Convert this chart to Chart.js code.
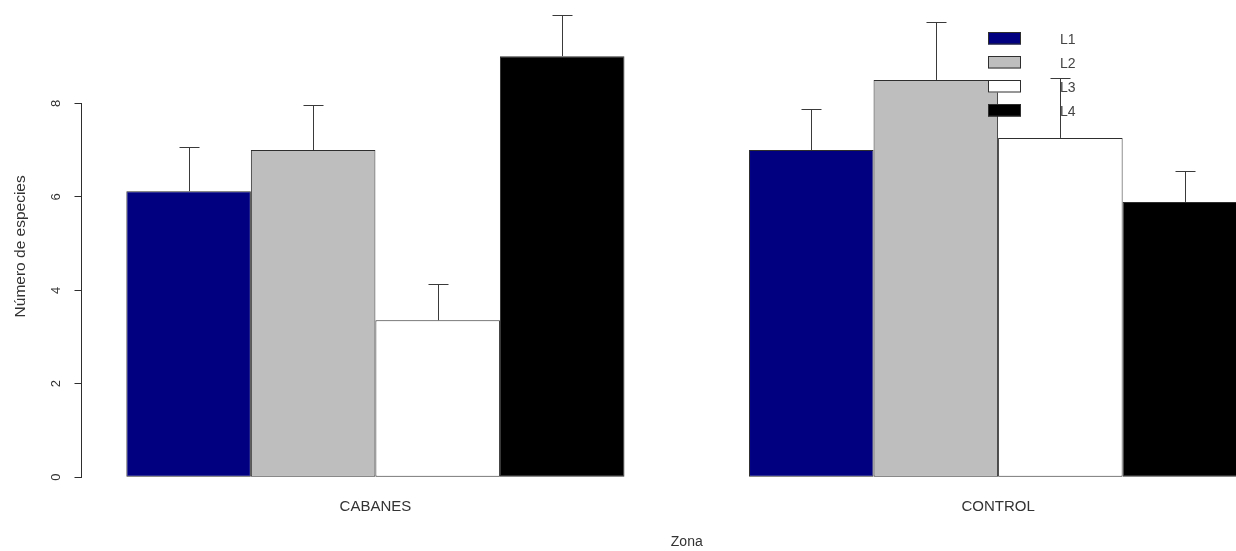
<!DOCTYPE html>
<html>
<head>
<meta charset="utf-8">
<script src="https://cdn.jsdelivr.net/npm/chart.js@4"></script>
<style>
  html, body { margin: 0; padding: 0; background: #fff; overflow: hidden; width: 1236px; height: 551px; }
  #wrap { position: absolute; left: 0; top: -14px; width: 1292px; height: 565px; }
</style>
</head>
<body>
<div id="wrap"><canvas id="chart"></canvas></div>
<script>
// Mean number of species per zone and line, with standard errors
const categories = ['CABANES', 'CONTROL'];
const seriesNames = ['L1', 'L2', 'L3', 'L4'];

const l1Mean = [6.12, 7.00];
const l2Mean = [7.00, 8.50];
const l3Mean = [3.36, 7.26];
const l4Mean = [9.01, 5.89];

const l1Se = [0.95, 0.88];
const l2Se = [0.97, 1.23];
const l3Se = [0.77, 1.29];
const l4Se = [0.87, 0.66];

const yTicks = [0, 2, 4, 6, 8];

const fills = ['#000080', '#bebebe', '#ffffff', '#000000'];
const ink = '#2e2e2e';
const textColor = '#333333';
const fontFamily = '"Liberation Sans", Arial, Helvetica, sans-serif';

const means = [l1Mean, l2Mean, l3Mean, l4Mean];
const errs = [l1Se, l2Se, l3Se, l4Se];

// value axis: from 0 to the highest whisker, padded 4% each way
const upper = means.flatMap((m, s) => m.map((v, i) => v + errs[s][i]));
const yTop = Math.max(...upper);
const yMin = -0.04 * yTop;
const yMax = 1.04 * yTop;

// groups sit at 0 and 1; bars fill 4/5 of each unit slot
const barSpan = 1.8;
const xMin = -0.4 - 0.04 * barSpan;
const xMax = 1.4 + 0.04 * barSpan;

const Y_OFFSET = 14; // canvas is shifted up by this many pixels

const decorations = {
  id: 'decorations',
  afterDatasetsDraw(chart) {
    const { ctx, scales: { y } } = chart;
    ctx.save();

    // legend (no frame)
    const lx = 988, ly = 32 + Y_OFFSET, step = 24, bw = 33, bh = 12.5;
    ctx.font = '14px ' + fontFamily;
    ctx.textBaseline = 'middle';
    ctx.textAlign = 'left';
    chart.data.datasets.forEach((ds, s) => {
      const top = ly + s * step;
      ctx.fillStyle = fills[s];
      ctx.fillRect(lx, top, bw, bh);
      ctx.strokeStyle = ink;
      ctx.lineWidth = 1;
      ctx.strokeRect(lx + 0.5, top + 0.5, bw - 1, bh - 1);
      ctx.fillStyle = '#444444';
      ctx.fillText(ds.label, 1060, top + bh / 2 + 2);
    });

    // standard error whiskers
    ctx.strokeStyle = '#3a3a3a';
    ctx.lineWidth = 1;
    ctx.beginPath();
    chart.data.datasets.forEach((ds, s) => {
      const meta = chart.getDatasetMeta(s);
      meta.data.forEach((bar, i) => {
        const x = Math.round(bar.x) + 0.5;
        const y0 = y.getPixelForValue(means[s][i]);
        const y1 = Math.round(y.getPixelForValue(means[s][i] + errs[s][i])) + 0.5;
        ctx.moveTo(x, y0);
        ctx.lineTo(x, y1);
        ctx.moveTo(x - 10, y1);
        ctx.lineTo(x + 10, y1);
      });
    });
    ctx.stroke();

    // y axis line spanning the first to last tick
    ctx.strokeStyle = ink;
    const ax = Math.floor(chart.chartArea.left) + 0.5;
    ctx.beginPath();
    ctx.moveTo(ax, y.getPixelForValue(yTicks[0]));
    ctx.lineTo(ax, y.getPixelForValue(yTicks[yTicks.length - 1]));
    ctx.stroke();

    ctx.restore();
  }
};

new Chart(document.getElementById('chart'), {
  type: 'bar',
  data: {
    datasets: seriesNames.map((name, s) => ({
      label: name,
      data: means[s].map((v, i) => ({ x: i, y: v })),
      backgroundColor: fills[s],
      borderColor: ink,
      borderWidth: 1,
      borderSkipped: false,
      categoryPercentage: 0.8,
      barPercentage: 1
    }))
  },
  options: {
    responsive: true,
    maintainAspectRatio: false,
    animation: false,
    devicePixelRatio: 1,
    layout: { padding: { top: 11, right: 0, bottom: 0, left: 0 } },
    plugins: {
      legend: { display: false },
      tooltip: { enabled: false }
    },
    scales: {
      x: {
        type: 'linear',
        min: xMin,
        max: xMax,
        offset: false,
        grid: { display: false, drawTicks: false, offset: false },
        border: { display: false },
        afterBuildTicks: (scale) => { scale.ticks = categories.map((_, i) => ({ value: i })); },
        afterFit: (scale) => {
          scale.height = 55.3;
          scale.paddingLeft = 0;
          scale.paddingRight = 0;
        },
        ticks: {
          color: textColor,
          font: { family: fontFamily, size: 15 },
          padding: 2,
          maxRotation: 0,
          autoSkip: false,
          callback: (v) => categories[v]
        },
        title: {
          display: true,
          text: 'Zona',
          color: textColor,
          font: { family: fontFamily, size: 14 },
          padding: { top: 0, bottom: 0 }
        }
      },
      y: {
        type: 'linear',
        min: yMin,
        max: yMax,
        afterBuildTicks: (scale) => { scale.ticks = yTicks.map((v) => ({ value: v })); },
        afterFit: (scale) => {
          scale.width = 81.5;
          scale.paddingTop = 0;
          scale.paddingBottom = 0;
        },
        grid: {
          drawOnChartArea: false,
          drawTicks: true,
          tickLength: 7,
          color: ink,
          lineWidth: 1
        },
        border: { display: false },
        ticks: {
          color: textColor,
          font: { family: fontFamily, size: 13 },
          minRotation: 90,
          maxRotation: 90,
          crossAlign: 'center',
          padding: 14,
          callback: (v) => String(v)
        },
        title: {
          display: true,
          text: 'Número de especies',
          color: textColor,
          font: { family: fontFamily, size: 15.5 },
          padding: { top: 11, bottom: 0 }
        }
      }
    }
  },
  plugins: [decorations]
});
</script>
</body>
</html>
